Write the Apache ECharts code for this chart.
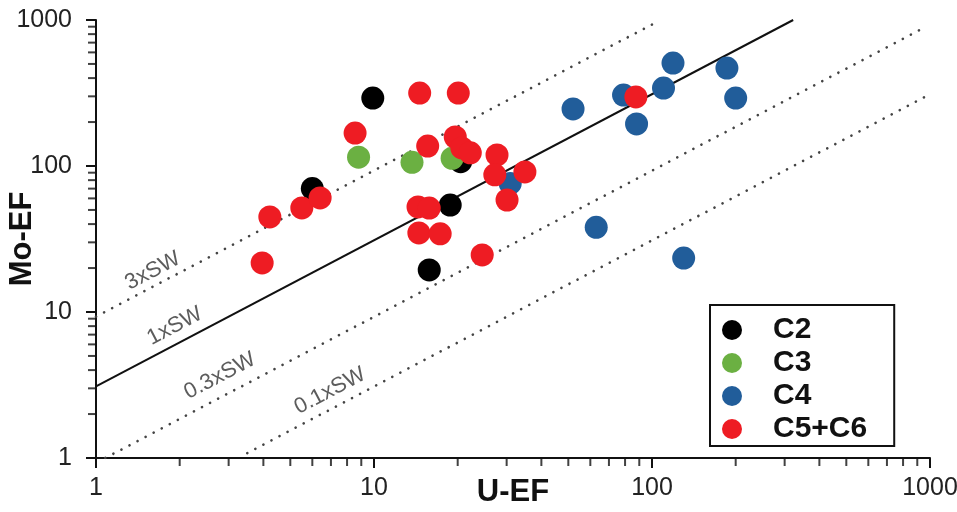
<!DOCTYPE html>
<html lang="en">
<head>
    <meta charset="UTF-8">
    <title>Mo-EF vs U-EF</title>
    <script src="https://cdn.jsdelivr.net/npm/echarts@6/dist/echarts.min.js"></script>
    <style>
        html, body { margin: 0; padding: 0; background: #fff; }
    </style>
</head>
<body>
    <div id="main" style="width: 957px; height: 512px"></div>
    <script>
        // sample groups: [U-EF, Mo-EF]
        var c2 = [[9.9, 292], [6.0, 70], [18.8, 54], [15.8, 19.4], [20.5, 107]];
        var c3 = [[8.8, 115], [13.7, 106], [19.1, 113]];
        var c4 = [[52, 246], [79, 306], [88, 194], [110, 342], [119, 507], [186, 469],
                  [200, 292], [63, 38], [130, 23.4], [30.9, 76]];
        var c56 = [[3.96, 21.7], [4.22, 44.8], [5.5, 51.6], [6.4, 60.4], [8.55, 168],
                   [14.6, 316], [20.1, 316], [15.6, 137], [19.6, 158], [20.7, 133],
                   [22.2, 123], [27.7, 119], [27.2, 87], [34.9, 91], [30.1, 58.5],
                   [14.4, 52.4], [15.8, 51.5], [14.5, 34.8], [17.3, 34.3], [24.5, 24.6],
                   [87.5, 297]];

        // seawater Mo/U ratio lines
        var sw3 = [[1, 9.3], [102, 950]];
        var sw1 = [[1, 3.1], [322, 1000]];
        var sw03 = [[1.08, 1], [944, 878]];
        var sw01 = [[3.5, 1.08], [1000, 310]];
        var lineNames = ['3xSW', '1xSW', '0.3xSW', '0.1xSW'];
        var lineNameAt = [[1.6, 19.1], [1.92, 8.0], [2.79, 3.65], [6.95, 2.88]];

        // minor ticks (2..9 of each decade)
        var minorTicks = [2, 3, 4, 5, 6, 7, 8, 9, 20, 30, 40, 50, 60, 70, 80, 90,
                          200, 300, 400, 500, 600, 700, 800, 900];

        var mychart = echarts.init(document.getElementById('main'));

        var font = 'Liberation Sans, Arial, sans-serif';

        function axis(name, gap, margin) {
            return {
                type: 'log',
                logBase: 10,
                min: 1,
                max: 1000,
                name: name,
                nameLocation: 'middle',
                nameGap: gap,
                nameMoveOverlap: false,
                nameTextStyle: { fontSize: 31, fontWeight: 'bold', color: '#111', fontFamily: font },
                axisLine: { lineStyle: { color: '#111', width: 2 } },
                axisTick: { length: 10, lineStyle: { color: '#111', width: 2 } },
                axisLabel: {
                    fontSize: 25, color: '#222', fontFamily: font, margin: margin,
                    formatter: function (v) { return String(Math.round(v)); }
                },
                splitLine: { show: false }
            };
        }

        function refLine(data, solid) {
            return {
                type: 'line',
                data: data,
                symbol: 'none',
                silent: true,
                z: 1,
                lineStyle: solid
                    ? { color: '#111', width: 2 }
                    : { color: '#444', width: 2.6, type: [0.1, 9], cap: 'round' }
            };
        }

        function dots(name, data, color) {
            return {
                name: name,
                type: 'scatter',
                data: data,
                symbolSize: 23,
                itemStyle: { color: color, opacity: 1 },
                z: 3
            };
        }

        var option = {
            animation: false,
            grid: {
                left: 96, right: 27, top: 20, bottom: 54,
                containLabel: false, outerBoundsMode: 'none'
            },
            xAxis: axis('U-EF', 19, 18),
            yAxis: axis('Mo-EF', 58, 24),
            legend: {
                data: ['C2', 'C3', 'C4', 'C5+C6'],
                orient: 'vertical',
                left: 710,
                top: 305,
                padding: [10, 27, 2, 12],
                borderColor: '#111',
                borderWidth: 2,
                itemWidth: 20,
                itemHeight: 20,
                itemGap: 3,
                icon: 'circle',
                textStyle: {
                    fontSize: 30, fontWeight: 'bold', color: '#111', fontFamily: font,
                    lineHeight: 30, padding: [0, 0, 0, 26]
                }
            },
            series: [
                refLine(sw3, false),
                refLine(sw1, true),
                refLine(sw03, false),
                refLine(sw01, false),
                {
                    type: 'scatter',
                    silent: true,
                    symbolSize: 0,
                    data: lineNames.map(function (n, i) {
                        return { name: n, value: lineNameAt[i] };
                    }),
                    label: {
                        show: true,
                        position: 'inside',
                        formatter: '{b}',
                        rotate: 27.7,
                        fontSize: 22,
                        color: '#333',
                        fontFamily: font
                    },
                    z: 2
                },
                dots('C2', c2, '#000000'),
                dots('C3', c3, '#6bb042'),
                dots('C4', c4, '#215d9a'),
                dots('C5+C6', c56, '#ee1c23'),
                {
                    type: 'scatter',
                    silent: true,
                    clip: false,
                    symbol: 'rect',
                    symbolSize: [2, 7],
                    symbolOffset: [0, 4.5],
                    itemStyle: { color: '#111' },
                    data: minorTicks.map(function (v) { return [v, 1]; })
                },
                {
                    type: 'scatter',
                    silent: true,
                    clip: false,
                    symbol: 'rect',
                    symbolSize: [7, 2],
                    symbolOffset: [-4.5, 0],
                    itemStyle: { color: '#111' },
                    data: minorTicks.map(function (v) { return [1, v]; })
                }
            ]
        };

        mychart.setOption(option);
    </script>
</body>
</html>
